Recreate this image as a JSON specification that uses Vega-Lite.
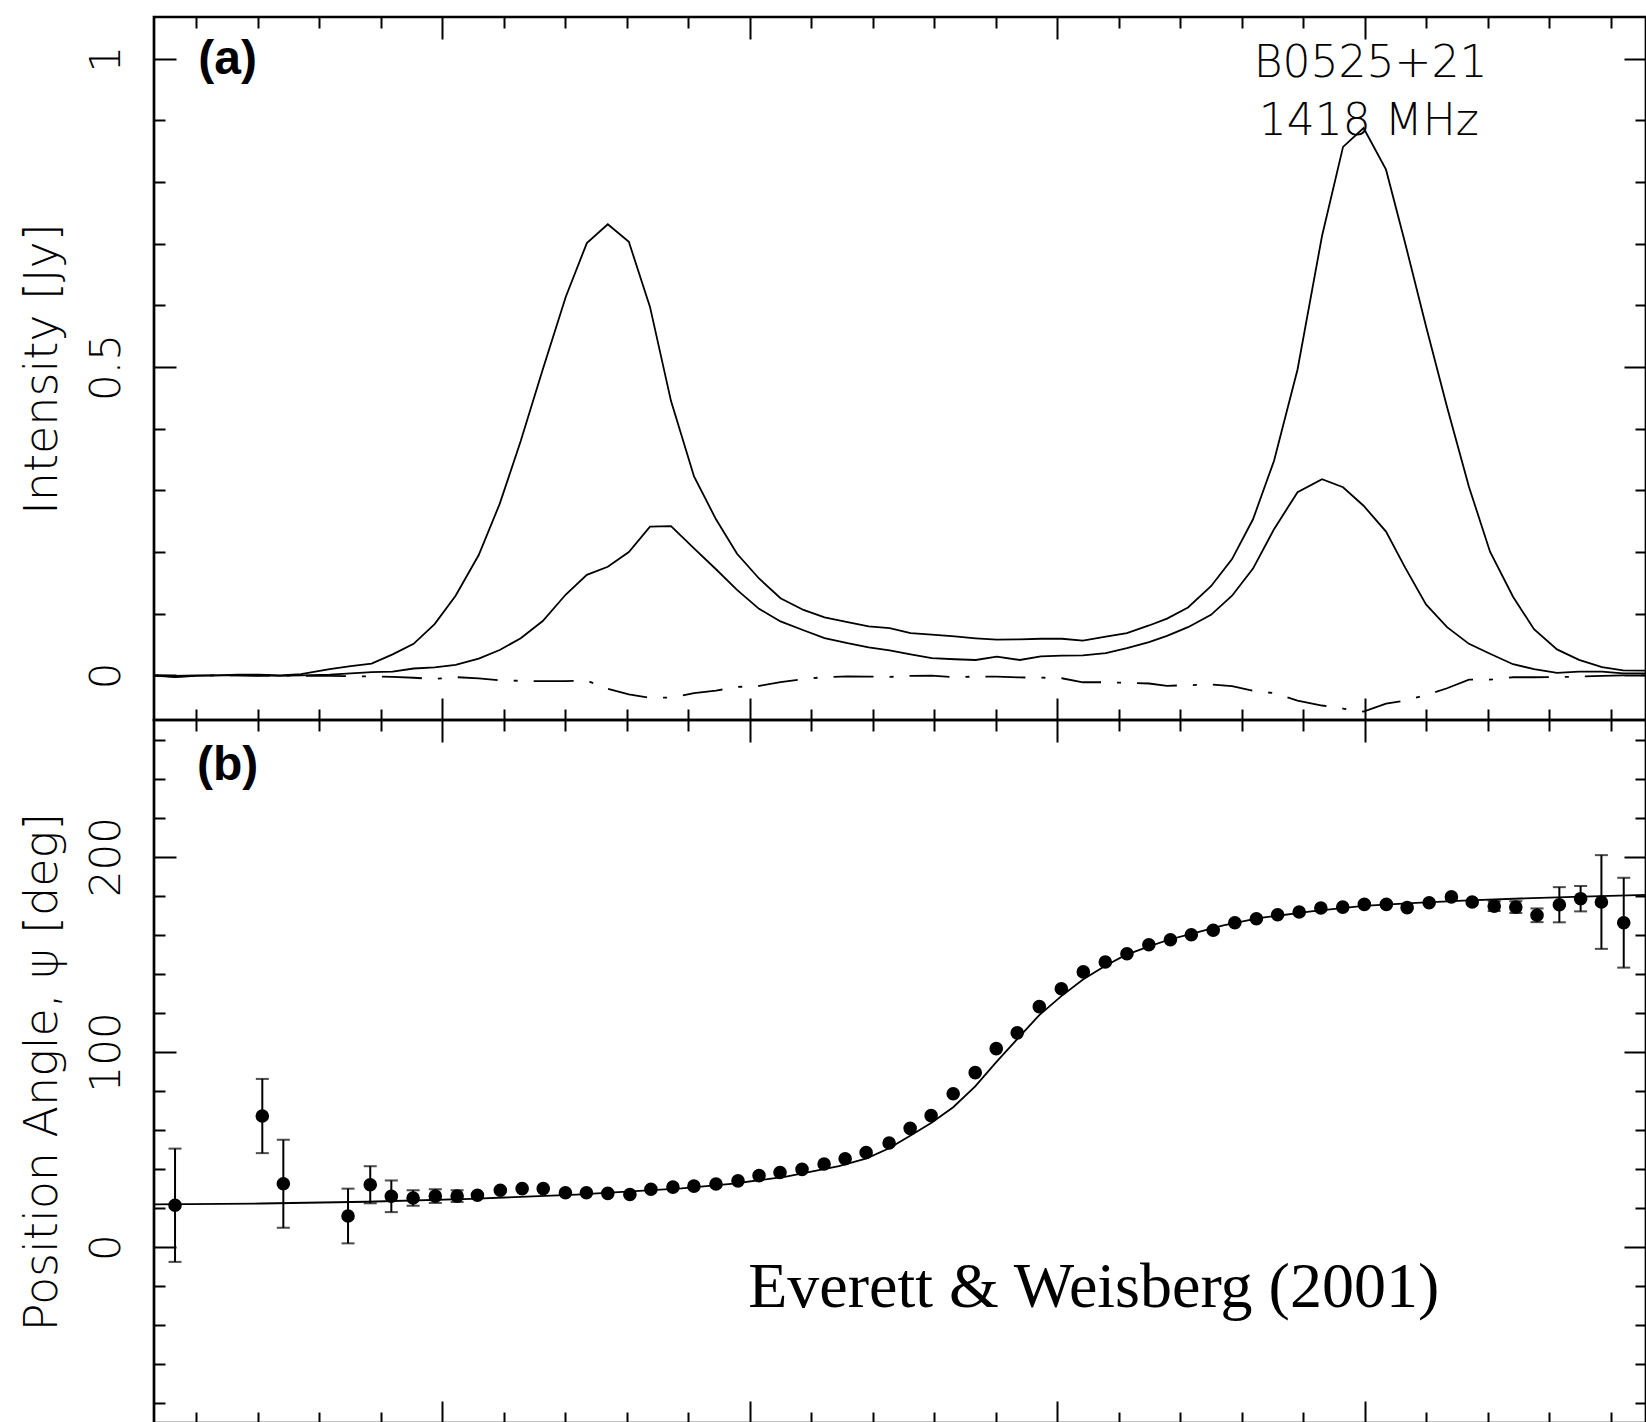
{
  "$schema": "https://vega.github.io/schema/vega-lite/v6.json",
  "padding": {"left": 18, "top": 14, "right": 0, "bottom": 0},
  "background": "white",
  "spacing": 0,
  "bounds": "flush",
  "resolve": {"scale": {"x": "independent", "y": "independent"}},
  "config": {
    "view": {"stroke": "black", "strokeWidth": 2.7},
    "axis": {"grid": false, "domain": false, "tickColor": "black", "tickWidth": 2, "labelColor": "black", "titleColor": "black", "labelFont": "DejaVu Sans", "titleFont": "DejaVu Sans", "labelFontSize": 42, "titleFontSize": 46, "labelFontWeight": 200, "titleFontWeight": 200, "labelOverlap": false, "labelFlush": false}
  },
  "datasets": {
    "prof": [
      {"x": -14.688, "I": -0.0005, "L": 0, "V": 0},
      {"x": -14.346, "I": -0.003, "L": -0.001, "V": -0.002},
      {"x": -14.005, "I": -0.001, "L": 0, "V": -0.001},
      {"x": -13.663, "I": 0, "L": 0, "V": 0},
      {"x": -13.322, "I": 0.001, "L": 0, "V": 0},
      {"x": -12.98, "I": 0.001, "L": 0, "V": -0.001},
      {"x": -12.639, "I": 0, "L": -0.001, "V": 0},
      {"x": -12.298, "I": 0.002, "L": 0, "V": -0.001},
      {"x": -11.831, "I": 0.01, "L": 0.001, "V": -0.001},
      {"x": -11.489, "I": 0.015, "L": 0.003, "V": -0.0016},
      {"x": -11.15, "I": 0.019, "L": 0.005, "V": -0.002},
      {"x": -10.808, "I": 0.034, "L": 0.006, "V": -0.0025},
      {"x": -10.467, "I": 0.051, "L": 0.011, "V": -0.004},
      {"x": -10.125, "I": 0.083, "L": 0.013, "V": -0.006},
      {"x": -9.784, "I": 0.129, "L": 0.017, "V": -0.003},
      {"x": -9.408, "I": 0.195, "L": 0.027, "V": -0.005},
      {"x": -9.067, "I": 0.278, "L": 0.041, "V": -0.008},
      {"x": -8.725, "I": 0.38, "L": 0.06, "V": -0.009},
      {"x": -8.367, "I": 0.496, "L": 0.088, "V": -0.0095},
      {"x": -7.992, "I": 0.614, "L": 0.131, "V": -0.0095},
      {"x": -7.65, "I": 0.701, "L": 0.163, "V": -0.0086},
      {"x": -7.309, "I": 0.7315, "L": 0.176, "V": -0.022},
      {"x": -6.967, "I": 0.703, "L": 0.2, "V": -0.031},
      {"x": -6.623, "I": 0.5975, "L": 0.241, "V": -0.0365},
      {"x": -6.281, "I": 0.4447, "L": 0.242, "V": -0.036},
      {"x": -5.907, "I": 0.3225, "L": 0.206, "V": -0.029},
      {"x": -5.55, "I": 0.253, "L": 0.172, "V": -0.0248},
      {"x": -5.208, "I": 0.197, "L": 0.1385, "V": -0.019},
      {"x": -4.85, "I": 0.157, "L": 0.1078, "V": -0.0173},
      {"x": -4.501, "I": 0.125, "L": 0.0873, "V": -0.011},
      {"x": -4.127, "I": 0.106, "L": 0.073, "V": -0.006},
      {"x": -3.785, "I": 0.0938, "L": 0.0603, "V": -0.003},
      {"x": -3.411, "I": 0.0862, "L": 0.052, "V": -0.0016},
      {"x": -3.068, "I": 0.0792, "L": 0.0453, "V": -0.002},
      {"x": -2.727, "I": 0.0765, "L": 0.0404, "V": -0.0027},
      {"x": -2.385, "I": 0.0684, "L": 0.034, "V": -0.001},
      {"x": -2.042, "I": 0.0658, "L": 0.028, "V": -0.0005},
      {"x": -1.668, "I": 0.063, "L": 0.026, "V": -0.0032},
      {"x": -1.327, "I": 0.06, "L": 0.0248, "V": -0.002},
      {"x": -0.984, "I": 0.0577, "L": 0.0302, "V": -0.0022},
      {"x": -0.611, "I": 0.0582, "L": 0.0248, "V": -0.0035},
      {"x": -0.268, "I": 0.0593, "L": 0.0307, "V": -0.0038},
      {"x": 0.073, "I": 0.0593, "L": 0.032, "V": -0.0048},
      {"x": 0.416, "I": 0.0561, "L": 0.0323, "V": -0.0113},
      {"x": 0.789, "I": 0.0626, "L": 0.036, "V": -0.0113},
      {"x": 1.132, "I": 0.0684, "L": 0.0441, "V": -0.0122},
      {"x": 1.491, "I": 0.0808, "L": 0.0538, "V": -0.0133},
      {"x": 1.784, "I": 0.092, "L": 0.064, "V": -0.017},
      {"x": 2.125, "I": 0.11, "L": 0.078, "V": -0.016},
      {"x": 2.499, "I": 0.1444, "L": 0.098, "V": -0.015},
      {"x": 2.841, "I": 0.1885, "L": 0.129, "V": -0.0175},
      {"x": 3.182, "I": 0.253, "L": 0.173, "V": -0.025},
      {"x": 3.524, "I": 0.348, "L": 0.237, "V": -0.029},
      {"x": 3.906, "I": 0.496, "L": 0.297, "V": -0.041},
      {"x": 4.304, "I": 0.7124, "L": 0.318, "V": -0.049},
      {"x": 4.646, "I": 0.857, "L": 0.305, "V": -0.054},
      {"x": 4.98, "I": 0.8875, "L": 0.275, "V": -0.059},
      {"x": 5.345, "I": 0.82, "L": 0.233, "V": -0.0458},
      {"x": 5.654, "I": 0.7016, "L": 0.175, "V": -0.041},
      {"x": 5.995, "I": 0.566, "L": 0.115, "V": -0.032},
      {"x": 6.337, "I": 0.435, "L": 0.078, "V": -0.021},
      {"x": 6.694, "I": 0.3055, "L": 0.051, "V": -0.007},
      {"x": 7.036, "I": 0.2004, "L": 0.035, "V": -0.007},
      {"x": 7.41, "I": 0.1274, "L": 0.018, "V": -0.0032},
      {"x": 7.751, "I": 0.0748, "L": 0.01, "V": -0.0032},
      {"x": 8.125, "I": 0.042, "L": 0.004, "V": -0.003},
      {"x": 8.483, "I": 0.025, "L": 0.006, "V": -0.002},
      {"x": 8.857, "I": 0.0134, "L": 0.006, "V": -0.001},
      {"x": 9.198, "I": 0.008, "L": 0.003, "V": 0},
      {"x": 9.572, "I": 0.0076, "L": 0.003, "V": 0}
    ],
    "pa": [
      {"x": -14.346, "pa": 21.5, "lo": -7.5, "hi": 50.5},
      {"x": -12.927, "pa": 67.2, "lo": 48.2, "hi": 86.2},
      {"x": -12.585, "pa": 32.5, "lo": 10, "hi": 55},
      {"x": -11.533, "pa": 16, "lo": 2, "hi": 30},
      {"x": -11.172, "pa": 32, "lo": 22.5, "hi": 41.5},
      {"x": -10.829, "pa": 26.1, "lo": 18, "hi": 34.2},
      {"x": -10.475, "pa": 25.2, "lo": 21.2, "hi": 29.2},
      {"x": -10.114, "pa": 26.2, "lo": 22.7, "hi": 29.7},
      {"x": -9.759, "pa": 26.2, "lo": 23.2, "hi": 29.2},
      {"x": -9.429, "pa": 26.6},
      {"x": -9.057, "pa": 29.2},
      {"x": -8.702, "pa": 30},
      {"x": -8.359, "pa": 30},
      {"x": -7.998, "pa": 27.9},
      {"x": -7.657, "pa": 27.9},
      {"x": -7.309, "pa": 27.6},
      {"x": -6.95, "pa": 27},
      {"x": -6.608, "pa": 29.7},
      {"x": -6.25, "pa": 30.8},
      {"x": -5.909, "pa": 31.3},
      {"x": -5.55, "pa": 32.4},
      {"x": -5.192, "pa": 34},
      {"x": -4.85, "pa": 36.7},
      {"x": -4.509, "pa": 38.3},
      {"x": -4.151, "pa": 39.9},
      {"x": -3.792, "pa": 42.6},
      {"x": -3.45, "pa": 45.3},
      {"x": -3.109, "pa": 48.5},
      {"x": -2.735, "pa": 53.4},
      {"x": -2.393, "pa": 60.9},
      {"x": -2.052, "pa": 67.4},
      {"x": -1.693, "pa": 78.6},
      {"x": -1.335, "pa": 89.4},
      {"x": -0.993, "pa": 101.7},
      {"x": -0.652, "pa": 109.8},
      {"x": -0.293, "pa": 123.2},
      {"x": 0.065, "pa": 132.4},
      {"x": 0.423, "pa": 141},
      {"x": 0.78, "pa": 146.1},
      {"x": 1.132, "pa": 150.3},
      {"x": 1.488, "pa": 154.9},
      {"x": 1.839, "pa": 157.5},
      {"x": 2.179, "pa": 160},
      {"x": 2.535, "pa": 162.3},
      {"x": 2.886, "pa": 166.2},
      {"x": 3.237, "pa": 168.2},
      {"x": 3.582, "pa": 170.3},
      {"x": 3.933, "pa": 171.7},
      {"x": 4.285, "pa": 173.7},
      {"x": 4.641, "pa": 174.2},
      {"x": 4.992, "pa": 175.6},
      {"x": 5.35, "pa": 175.6},
      {"x": 5.688, "pa": 173.9},
      {"x": 6.046, "pa": 176.4},
      {"x": 6.408, "pa": 179.4},
      {"x": 6.746, "pa": 176.8},
      {"x": 7.104, "pa": 174.7, "lo": 172.2, "hi": 177.2},
      {"x": 7.455, "pa": 174.2, "lo": 171.2, "hi": 177.2},
      {"x": 7.8, "pa": 170, "lo": 166.5, "hi": 173.5},
      {"x": 8.163, "pa": 175.4, "lo": 166.4, "hi": 184.4},
      {"x": 8.509, "pa": 178.5, "lo": 172, "hi": 185},
      {"x": 8.847, "pa": 176.8, "lo": 152.8, "hi": 200.8},
      {"x": 9.21, "pa": 166.2, "lo": 143.2, "hi": 189.2}
    ],
    "fit": [
      {"x": -14.688, "pa": 22},
      {"x": -12.94, "pa": 22.4},
      {"x": -11.23, "pa": 23.3},
      {"x": -9.53, "pa": 24.8},
      {"x": -7.82, "pa": 27},
      {"x": -6.11, "pa": 30.2},
      {"x": -5.26, "pa": 32.6},
      {"x": -4.41, "pa": 36.2},
      {"x": -3.55, "pa": 41.5},
      {"x": -3.1, "pa": 45.5},
      {"x": -2.735, "pa": 50.7},
      {"x": -2.393, "pa": 57.1},
      {"x": -2.052, "pa": 63.6},
      {"x": -1.693, "pa": 71.7},
      {"x": -1.335, "pa": 82.4},
      {"x": -0.993, "pa": 94.8},
      {"x": -0.652, "pa": 106.6},
      {"x": -0.293, "pa": 118.9},
      {"x": 0.065, "pa": 128.6},
      {"x": 0.423, "pa": 137.2},
      {"x": 0.782, "pa": 144.2},
      {"x": 1.106, "pa": 149.6},
      {"x": 1.481, "pa": 153.9},
      {"x": 1.823, "pa": 157.6},
      {"x": 2.164, "pa": 160.3},
      {"x": 2.7, "pa": 164.8},
      {"x": 3.273, "pa": 168.5},
      {"x": 4.127, "pa": 172},
      {"x": 4.98, "pa": 174.8},
      {"x": 5.834, "pa": 176.3},
      {"x": 6.688, "pa": 177.6},
      {"x": 7.541, "pa": 178.6},
      {"x": 8.395, "pa": 179.4},
      {"x": 9.572, "pa": 180.4}
    ],
    "notesA": [
      {"x": 5.094, "y": 0.97, "label": "B0525+21"},
      {"x": 5.064, "y": 0.8756, "label": "1418 MHz"}
    ],
    "tagA": [{"x": -13.49, "y": 0.9755, "label": "(a)"}],
    "tagB": [{"x": -13.49, "y": 239.5, "label": "(b)"}],
    "credit": [{"x": 0.592, "y": -30.6, "label": "Everett & Weisberg (2001)"}]
  },
  "vconcat": [
    {
      "width": 1492,
      "height": 703,
      "resolve": {"axis": {"x": "independent", "y": "independent"}},
      "layer": [
        {
          "data": {"name": "prof"},
          "mark": {"type": "line", "color": "black", "strokeWidth": 1.8, "clip": true},
          "encoding": {
            "x": {"field": "x", "type": "quantitative", "scale": {"domain": [-14.688, 9.572], "nice": false, "zero": false},
              "axis": {"orient": "bottom", "values": [-14,-13,-12,-11,-10,-9,-8,-7,-6,-5,-4,-3,-2,-1,0,1,2,3,4,5,6,7,8,9], "labels": false, "title": null,
                "tickSize": {"condition": {"test": "datum.value % 5 === 0", "value": -22}, "value": -11}}},
            "y": {"field": "I", "type": "quantitative", "scale": {"domain": [-0.0725, 1.0676], "nice": false, "zero": false},
              "axis": {"orient": "left", "values": [0,0.1,0.2,0.3,0.4,0.5,0.6,0.7,0.8,0.9,1], "format": "~g",
                "tickSize": {"condition": {"test": "abs(datum.value*2 - round(datum.value*2)) < 0.001", "value": -22}, "value": -11},
                "labelExpr": "abs(datum.value*2 - round(datum.value*2)) < 0.001 ? datum.label : ''",
                "labelAngle": 270, "labelAlign": "center", "labelBaseline": "alphabetic", "labelPadding": 57,
                "title": "Intensity [Jy]", "titleBaseline": "alphabetic", "titlePadding": 17.5}}
          }
        },
        {
          "data": {"name": "prof"},
          "mark": {"type": "line", "color": "black", "strokeWidth": 1.8, "clip": true},
          "encoding": {
            "x": {"field": "x", "type": "quantitative", "scale": {"domain": [-14.688, 9.572], "nice": false, "zero": false},
              "axis": {"orient": "top", "values": [-14,-13,-12,-11,-10,-9,-8,-7,-6,-5,-4,-3,-2,-1,0,1,2,3,4,5,6,7,8,9], "labels": false, "title": null,
                "tickSize": {"condition": {"test": "datum.value % 5 === 0", "value": -22}, "value": -11}}},
            "y": {"field": "L", "type": "quantitative", "scale": {"domain": [-0.0725, 1.0676], "nice": false, "zero": false},
              "axis": {"orient": "right", "values": [0,0.1,0.2,0.3,0.4,0.5,0.6,0.7,0.8,0.9,1], "labels": false, "title": null,
                "tickSize": {"condition": {"test": "abs(datum.value*2 - round(datum.value*2)) < 0.001", "value": -22}, "value": -11}}}
          }
        },
        {
          "data": {"name": "prof"},
          "mark": {"type": "line", "color": "black", "strokeWidth": 1.8, "strokeDash": [40, 16, 4, 16], "clip": true},
          "encoding": {
            "x": {"field": "x", "type": "quantitative", "scale": {"domain": [-14.688, 9.572], "nice": false, "zero": false}, "axis": null},
            "y": {"field": "V", "type": "quantitative", "scale": {"domain": [-0.0725, 1.0676], "nice": false, "zero": false}, "axis": null}
          }
        },
        {
          "data": {"name": "tagA"},
          "mark": {"type": "text", "color": "black", "font": "Liberation Sans", "fontWeight": "bold", "fontSize": 48, "align": "center", "baseline": "alphabetic"},
          "encoding": {
            "x": {"field": "x", "type": "quantitative", "scale": {"domain": [-14.688, 9.572], "nice": false, "zero": false}, "axis": null},
            "y": {"field": "y", "type": "quantitative", "scale": {"domain": [-0.0725, 1.0676], "nice": false, "zero": false}, "axis": null},
            "text": {"field": "label"}
          }
        },
        {
          "data": {"name": "notesA"},
          "mark": {"type": "text", "color": "black", "font": "DejaVu Sans", "fontWeight": 200, "fontSize": 44, "align": "center", "baseline": "alphabetic"},
          "encoding": {
            "x": {"field": "x", "type": "quantitative", "scale": {"domain": [-14.688, 9.572], "nice": false, "zero": false}, "axis": null},
            "y": {"field": "y", "type": "quantitative", "scale": {"domain": [-0.0725, 1.0676], "nice": false, "zero": false}, "axis": null},
            "text": {"field": "label"}
          }
        }
      ]
    },
    {
      "width": 1492,
      "height": 703,
      "resolve": {"axis": {"x": "independent", "y": "independent"}},
      "layer": [
        {
          "data": {"name": "fit"},
          "mark": {"type": "line", "color": "black", "strokeWidth": 1.8, "clip": true},
          "encoding": {
            "x": {"field": "x", "type": "quantitative", "scale": {"domain": [-14.688, 9.572], "nice": false, "zero": false},
              "axis": {"orient": "bottom", "values": [-14,-13,-12,-11,-10,-9,-8,-7,-6,-5,-4,-3,-2,-1,0,1,2,3,4,5,6,7,8,9], "labels": false, "title": null,
                "tickSize": {"condition": {"test": "datum.value % 5 === 0", "value": -22}, "value": -11}}},
            "y": {"field": "pa", "type": "quantitative", "scale": {"domain": [-90, 270], "nice": false, "zero": false},
              "axis": {"orient": "left", "values": [-80,-60,-40,-20,0,20,40,60,80,100,120,140,160,180,200,220,240,260], "format": "d",
                "tickSize": {"condition": {"test": "datum.value % 100 === 0", "value": -22}, "value": -11},
                "labelExpr": "datum.value % 100 === 0 ? datum.label : ''",
                "labelAngle": 270, "labelAlign": "center", "labelBaseline": "alphabetic", "labelPadding": 57,
                "title": "Position Angle, ψ [deg]", "titleBaseline": "alphabetic", "titlePadding": 17.5}}
          }
        },
        {
          "data": {"name": "pa"},
          "transform": [{"filter": "isValid(datum.hi)"}],
          "mark": {"type": "rule", "color": "black", "strokeWidth": 2},
          "encoding": {
            "x": {"field": "x", "type": "quantitative", "scale": {"domain": [-14.688, 9.572], "nice": false, "zero": false},
              "axis": {"orient": "top", "values": [-14,-13,-12,-11,-10,-9,-8,-7,-6,-5,-4,-3,-2,-1,0,1,2,3,4,5,6,7,8,9], "labels": false, "title": null,
                "tickSize": {"condition": {"test": "datum.value % 5 === 0", "value": -22}, "value": -11}}},
            "y": {"field": "lo", "type": "quantitative", "scale": {"domain": [-90, 270], "nice": false, "zero": false},
              "axis": {"orient": "right", "values": [-80,-60,-40,-20,0,20,40,60,80,100,120,140,160,180,200,220,240,260], "labels": false, "title": null,
                "tickSize": {"condition": {"test": "datum.value % 100 === 0", "value": -22}, "value": -11}}},
            "y2": {"field": "hi"}
          }
        },
        {
          "data": {"name": "pa"},
          "transform": [{"filter": "isValid(datum.hi)"}],
          "mark": {"type": "tick", "color": "black", "orient": "horizontal", "size": 13, "thickness": 2},
          "encoding": {
            "x": {"field": "x", "type": "quantitative", "scale": {"domain": [-14.688, 9.572], "nice": false, "zero": false}, "axis": null},
            "y": {"field": "lo", "type": "quantitative", "scale": {"domain": [-90, 270], "nice": false, "zero": false}, "axis": null}
          }
        },
        {
          "data": {"name": "pa"},
          "transform": [{"filter": "isValid(datum.hi)"}],
          "mark": {"type": "tick", "color": "black", "orient": "horizontal", "size": 13, "thickness": 2},
          "encoding": {
            "x": {"field": "x", "type": "quantitative", "scale": {"domain": [-14.688, 9.572], "nice": false, "zero": false}, "axis": null},
            "y": {"field": "hi", "type": "quantitative", "scale": {"domain": [-90, 270], "nice": false, "zero": false}, "axis": null}
          }
        },
        {
          "data": {"name": "pa"},
          "mark": {"type": "circle", "color": "black", "size": 185, "opacity": 1},
          "encoding": {
            "x": {"field": "x", "type": "quantitative", "scale": {"domain": [-14.688, 9.572], "nice": false, "zero": false}, "axis": null},
            "y": {"field": "pa", "type": "quantitative", "scale": {"domain": [-90, 270], "nice": false, "zero": false}, "axis": null}
          }
        },
        {
          "data": {"name": "tagB"},
          "mark": {"type": "text", "color": "black", "font": "Liberation Sans", "fontWeight": "bold", "fontSize": 48, "align": "center", "baseline": "alphabetic"},
          "encoding": {
            "x": {"field": "x", "type": "quantitative", "scale": {"domain": [-14.688, 9.572], "nice": false, "zero": false}, "axis": null},
            "y": {"field": "y", "type": "quantitative", "scale": {"domain": [-90, 270], "nice": false, "zero": false}, "axis": null},
            "text": {"field": "label"}
          }
        },
        {
          "data": {"name": "credit"},
          "mark": {"type": "text", "color": "black", "font": "Liberation Serif", "fontSize": 64, "align": "center", "baseline": "alphabetic"},
          "encoding": {
            "x": {"field": "x", "type": "quantitative", "scale": {"domain": [-14.688, 9.572], "nice": false, "zero": false}, "axis": null},
            "y": {"field": "y", "type": "quantitative", "scale": {"domain": [-90, 270], "nice": false, "zero": false}, "axis": null},
            "text": {"field": "label"}
          }
        }
      ]
    }
  ]
}
